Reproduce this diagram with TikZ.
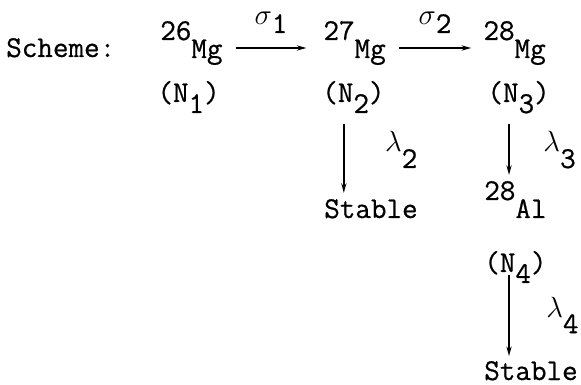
\documentclass[tikz,border=0pt]{standalone}
\usepackage{fontspec}
\setmonofont{Latin Modern Mono}[FakeBold=0.6]
\usetikzlibrary{arrows.meta,positioning}

\newcommand{\iso}[2]{\raisebox{0.45cm}{#1}#2}
\newcommand{\pop}[1]{(N\raisebox{-0.275cm}{#1})}
\tikzset{
  txt/.style={inner sep=0pt,anchor=base west},
  flow/.style={-{Stealth[length=2.4mm,width=1.3mm]},line width=1.1pt}
}

\begin{document}
\begin{tikzpicture}[font=\fontsize{21.5}{25}\selectfont\ttfamily]
\useasboundingbox (0,0) rectangle (14.525,-9.625);
\node[txt] (sch) at (0.15,-1.425) {Scheme:};
\node[txt] (mgA) at (4.00,-1.45) {\iso{26}{Mg}};
\node[txt] (mgB) at (8.08,-1.45) {\iso{27}{Mg}};
\node[txt] (mgC) at (12.08,-1.45) {\iso{28}{Mg}};
\node[txt] (nA) at (3.93,-2.55) {\pop{1}};
\node[txt] (nB) at (8.05,-2.55) {\pop{2}};
\node[txt] (nC) at (12.18,-2.55) {\pop{3}};
\node[txt] (stB) at (8.10,-5.45) {Stable};
\node[txt] (alD) at (12.10,-5.45) {\iso{28}{Al}};
\node[txt] (nD) at (12.10,-6.80) {\pop{4}};
\node[txt] (stD) at (12.10,-9.50) {Stable};
% capture rates
\draw[flow] ([xshift=0.32cm,yshift=0.25cm]mgA.base east) -- ([xshift=-0.42cm,yshift=0.25cm]mgB.base west)
  node[midway,anchor=base,yshift=0.575cm,inner sep=0pt] (sgA) {$\sigma$\raisebox{-0.2cm}{1}};
\draw[flow] ([xshift=0.32cm,yshift=0.25cm]mgB.base east) -- ([xshift=-0.3cm,yshift=0.25cm]mgC.base west)
  node[midway,anchor=base,yshift=0.575cm,inner sep=0pt] (sgB) {$\sigma$\raisebox{-0.2cm}{2}};
% decays
\draw[flow] ([xshift=-0.24cm,yshift=-0.55cm]nB.base) -- ([xshift=-0.24cm,yshift=0.15cm]nB.base |- stB.north);
\draw[flow] ([xshift=-0.24cm,yshift=-0.55cm]nC.base) -- ([xshift=-0.24cm,yshift=0.15cm]nC.base |- alD.north);
\draw[flow] ([xshift=-0.16cm,yshift=-0.08cm]nD.base) -- ([xshift=-0.16cm,yshift=0.12cm]nD.base |- stD.north);
\node[txt] (lmB) at (9.62,-3.80) {$\lambda$\raisebox{-0.4cm}{2}};
\node[txt] (lmC) at (13.58,-3.80) {$\lambda$\raisebox{-0.4cm}{3}};
\node[txt] (lmD) at (13.65,-7.95) {$\lambda$\raisebox{-0.38cm}{4}};
\end{tikzpicture}
\end{document}
